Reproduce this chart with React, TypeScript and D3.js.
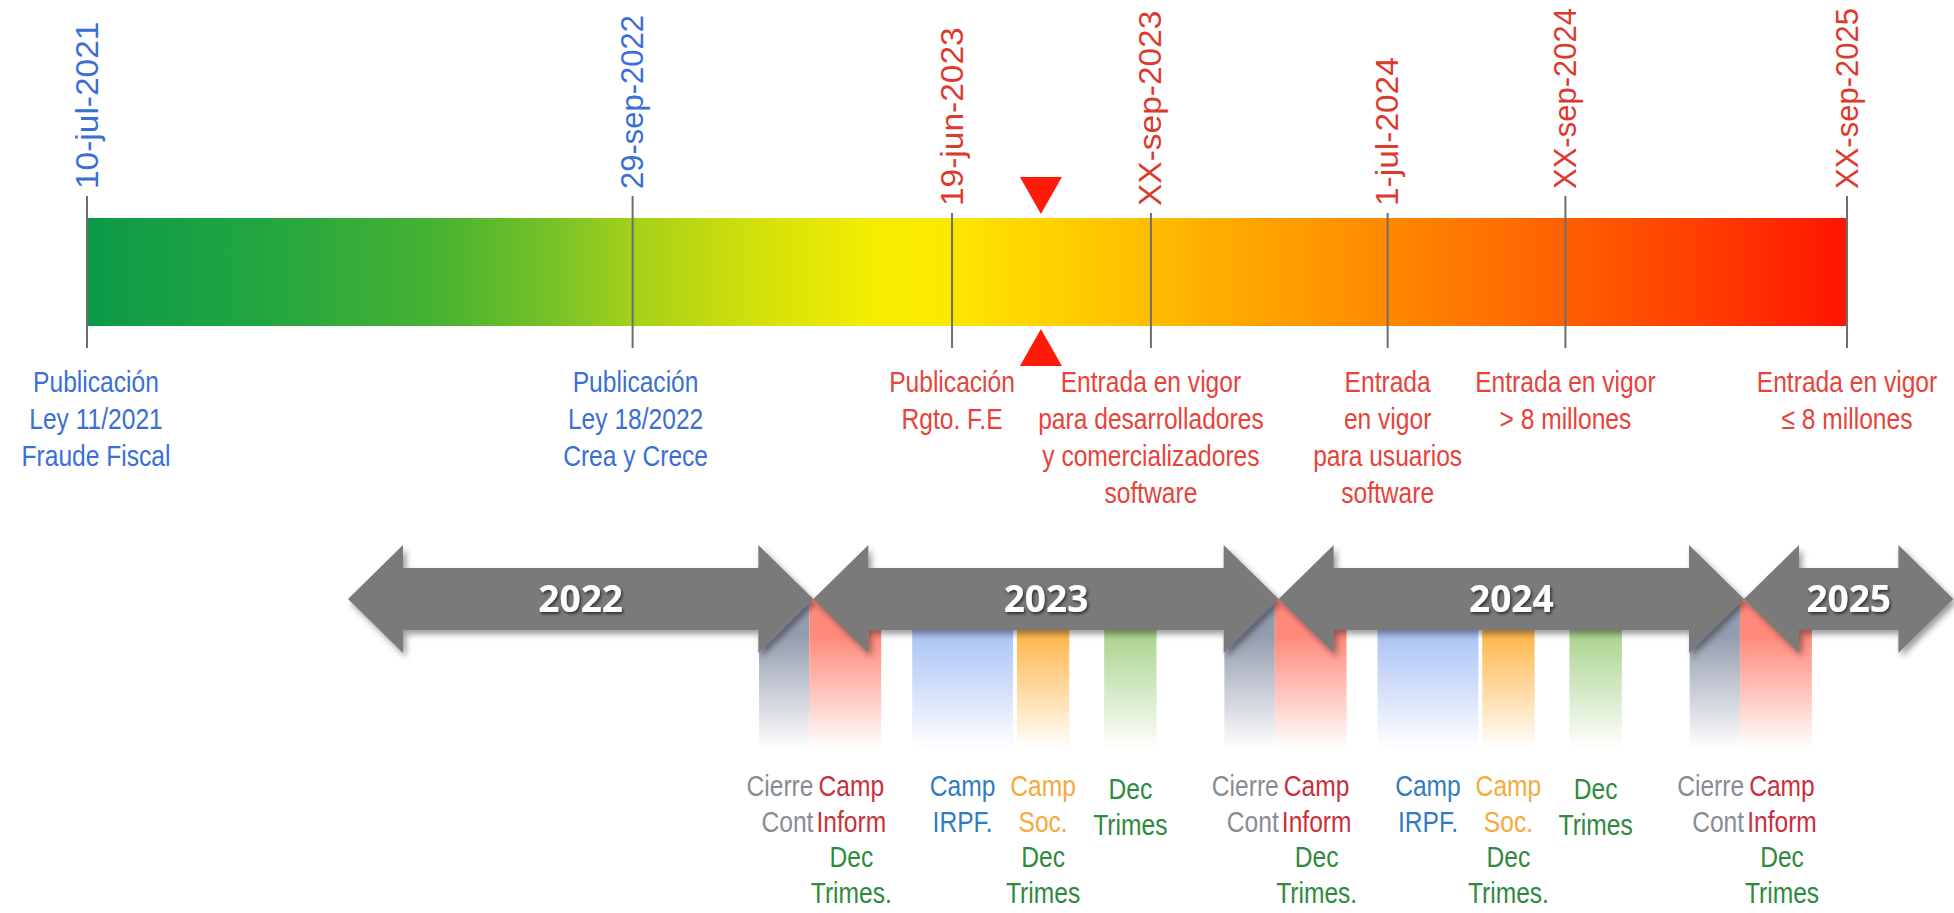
import React from "react";
import * as d3 from "d3";

// top timeline milestones (position = fraction along the coloured bar)
const milestoneDates = ["10-jul-2021", "29-sep-2022", "19-jun-2023", "XX-sep-2023", "1-jul-2024", "XX-sep-2024", "XX-sep-2025"];
const milestonePos = [0, 0.31, 0.4915, 0.6045, 0.739, 0.84, 1];
const milestoneLow = [false, false, true, true, true, false, false];
const milestoneGroup = ["blue", "blue", "red", "red", "red", "red", "red"];
const milestoneLabels = [
  ["Publicación", "Ley 11/2021", "Fraude Fiscal"],
  ["Publicación", "Ley 18/2022", "Crea y Crece"],
  ["Publicación", "Rgto. F.E"],
  ["Entrada en vigor", "para desarrolladores", "y comercializadores", "software"],
  ["Entrada", "en vigor", "para usuarios", "software"],
  ["Entrada en vigor", "> 8 millones"],
  ["Entrada en vigor", "≤ 8 millones"],
];
const todayPos = 0.542;

const gradientOffsets = [0, 0.1, 0.2, 0.27, 0.31, 0.38, 0.45, 0.49, 0.53, 0.6, 0.66, 0.74, 0.84, 0.92, 1];
const gradientColors = ["#0c9a48", "#22a640", "#48b232", "#7cc326", "#a4d01a", "#d2e00a", "#f6ee00", "#fde800", "#ffd800", "#ffbe00", "#ffa600", "#ff8800", "#ff6000", "#ff3c00", "#ff1400"];

// year arrows, in months from jan-2022
const years = ["2022", "2023", "2024", "2025"];
const yearStartMonth = [0, 12, 24, 36];
const yearEndMonth = [12, 24, 36, 41.4];

// yearly obligations, months relative to the start of each year
const bandKinds = ["cierre", "inform", "irpf", "soc", "dec"];
const bandFrom = [-1.4, -0.1, 2.55, 5.25, 7.5];
const bandTo = [-0.1, 1.75, 5.15, 6.6, 8.85];
const bandColors = ["#949daf", "#ff8a7b", "#adc4f5", "#ffb84f", "#acd591"];

const cycleMonth = [12, 24, 36];
const cycleBands = [[0, 1, 2, 3, 4], [0, 1, 2, 3, 4], [0, 1]];

const bandLabelLines = [
  [["Cierre", "gray"], ["Cont", "gray"]],
  [["Camp", "crimson"], ["Inform", "crimson"], ["Dec", "green"], ["Trimes.", "green"]],
  [["Camp", "blue"], ["IRPF.", "blue"]],
  [["Camp", "orange"], ["Soc.", "orange"], ["Dec", "green"], ["Trimes", "green"]],
  [["Dec", "green"], ["Trimes", "green"]],
];
const labelOverrides = [
  { cycle: 1, band: 3, line: 3, text: "Trimes." },
  { cycle: 2, band: 1, line: 3, text: "Trimes" },
];

const palette = {
  blue: "#3a6fd6",
  red: "#e6433a",
  dateRed: "#dc3a2c",
  gray: "#878c95",
  crimson: "#c92f3c",
  green: "#2f8a3e",
  irpf: "#2f7cc0",
  orange: "#f4aa3c",
};
const labelColor = { gray: palette.gray, crimson: palette.crimson, green: palette.green, blue: palette.irpf, orange: palette.orange };

const W = 1954;
const H = 913;
const FONT = "'Liberation Sans', Arial, sans-serif";

const NarrowText = ({ x, y, anchor = "middle", fill, children }) => (
  <text
    transform={`translate(${x},${y}) scale(0.82,1)`}
    textAnchor={anchor}
    fill={fill}
    fontSize={30}
    fontFamily={FONT}
  >
    {children}
  </text>
);

export default function App() {
  const barX = d3.scaleLinear().domain([0, 1]).range([87, 1847]);
  const monthX = d3.scaleLinear().domain([0, 36]).range([348, 1744]);
  const barTop = 218;
  const barBottom = 326;
  const cy = 599;

  const line = d3.line();
  const arrow = (x0, x1) => {
    const hl = 55, hh = 54, bh = 31;
    return (
      line([
        [x0, cy], [x0 + hl, cy - hh], [x0 + hl, cy - bh], [x1 - hl, cy - bh], [x1 - hl, cy - hh],
        [x1, cy], [x1 - hl, cy + hh], [x1 - hl, cy + bh], [x0 + hl, cy + bh], [x0 + hl, cy + hh],
      ]) + "Z"
    );
  };

  const tx = barX(todayPos);

  return (
    <>
      <style>{"body{margin:0;overflow:hidden}"}</style>
      <svg width={W} height={H} style={{ display: "block", background: "#fff" }}>
        <defs>
          <linearGradient id="bar" x1="0" x2="1" y1="0" y2="0">
            {gradientOffsets.map((o, i) => (
              <stop key={i} offset={o} stopColor={gradientColors[i]} />
            ))}
          </linearGradient>
          {bandColors.map((c, i) => (
            <linearGradient key={i} id={`band-${i}`} x1="0" x2="0" y1="0" y2="1">
              <stop offset="0" stopColor={c} />
              <stop offset="0.25" stopColor={c} />
              <stop offset="1" stopColor={c} stopOpacity="0" />
            </linearGradient>
          ))}
          <filter id="shadow" x="-5%" y="-30%" width="110%" height="170%">
            <feDropShadow dx="3" dy="4" stdDeviation="3" floodColor="#000" floodOpacity="0.4" />
          </filter>
          <filter id="tshadow" x="-20%" y="-40%" width="140%" height="180%">
            <feDropShadow dx="1.5" dy="2" stdDeviation="1.5" floodColor="#000" floodOpacity="0.6" />
          </filter>
        </defs>

        {/* colour bar */}
        <rect x={barX(0)} y={barTop} width={barX(1) - barX(0)} height={barBottom - barTop} fill="url(#bar)" />

        {/* milestones */}
        {milestoneDates.map((d, i) => {
          const x = barX(milestonePos[i]);
          const blue = milestoneGroup[i] === "blue";
          const end = milestoneLow[i] ? 206 : 189;
          const stretch = milestoneLow[i] || i === 0 ? 1.08 : 1;
          const shift = i === 0 ? 9 : i === 1 ? 3 : 0;
          return (
            <g key={d}>
              <line x1={x} x2={x} y1={end + 7} y2={348} stroke="#6e6e6e" strokeWidth={2} />
              <text
                transform={`translate(${x + 10.5},${end}) rotate(-90) scale(${stretch},1)`}
                fontSize={31}
                fontFamily={FONT}
                fill={blue ? palette.blue : palette.dateRed}
              >
                {d}
              </text>
              {milestoneLabels[i].map((t, j) => (
                <NarrowText key={j} x={x + shift} y={392 + j * 37} fill={blue ? palette.blue : palette.red}>
                  {t}
                </NarrowText>
              ))}
            </g>
          );
        })}

        {/* today marker */}
        <path d={line([[tx - 21, 177], [tx + 21, 177], [tx, 214]]) + "Z"} fill="#ff1a0a" />
        <path d={line([[tx - 21, 366], [tx + 21, 366], [tx, 329]]) + "Z"} fill="#ff1a0a" />

        {/* obligation bands */}
        {cycleMonth.map((m, c) =>
          cycleBands[c].map((b) => {
            const x0 = monthX(m + bandFrom[b]);
            const x1 = monthX(m + bandTo[b]);
            return <rect key={`${c}-${b}`} x={x0} y={cy} width={x1 - x0} height={150} fill={`url(#band-${b})`} />;
          })
        )}

        {/* year arrows */}
        {years.map((y, i) => {
          const x0 = monthX(yearStartMonth[i]);
          const x1 = monthX(yearEndMonth[i]);
          return (
            <g key={y}>
              <path d={arrow(x0, x1)} fill="#7a7a7a" filter="url(#shadow)" />
              <text
                x={(x0 + x1) / 2}
                y={cy + 13}
                textAnchor="middle"
                fill="#fff"
                fontSize={37}
                fontWeight="bold"
                fontFamily="'Open Sans', sans-serif"
                filter="url(#tshadow)"
              >
                {y}
              </text>
            </g>
          );
        })}

        {/* band labels */}
        {cycleMonth.map((m, c) =>
          cycleBands[c].map((b) => {
            const x0 = monthX(m + bandFrom[b]);
            const x1 = monthX(m + bandTo[b]);
            const kind = bandKinds[b];
            const anchor = kind === "cierre" ? "end" : "middle";
            const x = kind === "cierre" ? x1 + 4 : (x0 + x1) / 2 + (kind === "inform" ? 6 : 0);
            return bandLabelLines[b].map(([t, col], j) => {
              const ov = labelOverrides.find((o) => o.cycle === c && o.band === b && o.line === j);
              return (
                <NarrowText key={`${c}-${b}-${j}`} x={x} y={796 + j * 35.5 + (kind === "dec" ? 3 : 0)} anchor={anchor} fill={labelColor[col]}>
                  {ov ? ov.text : t}
                </NarrowText>
              );
            });
          })
        )}
      </svg>
    </>
  );
}
